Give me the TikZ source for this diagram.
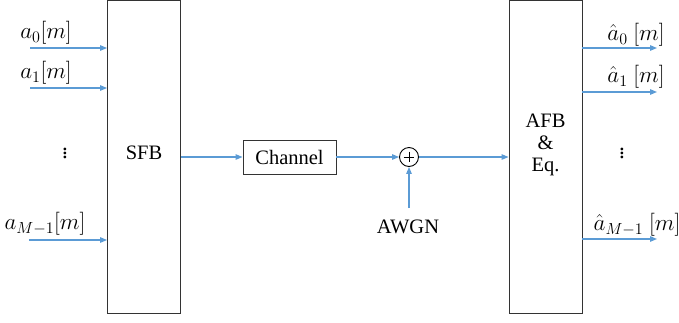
\RequirePackage{fix-cm}
\documentclass[tikz,border=0pt]{standalone}
\usepackage{fontspec}
\setmainfont{Liberation Serif}
\usetikzlibrary{arrows.meta}
\definecolor{sigblue}{RGB}{91,155,213}
\begin{document}
\begin{tikzpicture}[x=1pt,y=-1pt,
  blk/.style={draw=black!80,line width=0.9pt,inner sep=0pt},
  sig/.style={draw=sigblue,line width=1.2pt,-{Triangle[length=7pt,width=5.5pt]}},
  lbl/.style={inner sep=0pt,font=\fontsize{20.5}{24}\selectfont},
  mlbl/.style={inner sep=0pt,font=\fontsize{23}{27}\selectfont},
  every node/.style={font=\fontsize{20.5}{24}\selectfont}]
\useasboundingbox (0,0) rectangle (679,322);
% blocks
\node[blk,minimum width=73pt,minimum height=313pt] (sfb) at (144,157) {};
\node[lbl] at (144,153) {SFB};
\node[blk,minimum width=73pt,minimum height=313pt] (afb) at (545.5,157) {};
\node[lbl,align=center] at (545.5,145) {AFB\\[-2pt]\&\\[-2pt]Eq.};
\node[blk,minimum width=93pt,minimum height=34pt] (ch) at (289.5,157) {Channel};
\node[draw=black,line width=0.9pt,circle,minimum size=19pt,inner sep=0pt] (sum) at (409,157) {};
\draw[line width=0.8pt] (sum.north) ++(0,4.5) -- ++(0,10) (sum.west) ++(4.5,0) -- ++(10,0);
% inputs
\coordinate (i0) at (30,48);
\coordinate (i1) at (30,88);
\coordinate (i2) at (29,240);
\draw[sig] (i0) -- (i0 -| sfb.west);
\draw[sig] (i1) -- (i1 -| sfb.west);
\draw[sig] (i2) -- (i2 -| sfb.west);
\node[mlbl] at (46,33) {$a_0[m]$};
\node[mlbl] at (46,73) {$a_1[m]$};
\node[mlbl] at (45,224) {$a_{M-1}[m]$};
\node[mlbl] at (65,150) {$\vdots$};
% middle path
\draw[sig] (sfb.east |- ch.west) -- (ch.west);
\draw[sig] (ch.east) -- (sum.west);
\draw[sig] (sum.east) -- (sum.east -| afb.west);
\coordinate (nz) at (409,208);
\draw[sig] (nz) -- (sum.south);
\node[lbl] at (408,227) {AWGN};
% outputs
\coordinate (o0) at (657,48);
\coordinate (o1) at (657,92);
\coordinate (o2) at (657,239);
\draw[sig] (o0 -| afb.east) -- (o0);
\draw[sig] (o1 -| afb.east) -- (o1);
\draw[sig] (o2 -| afb.east) -- (o2);
\node[mlbl] at (636,35) {$\hat a_0\ [m]$};
\node[mlbl] at (636,77) {$\hat a_1\ [m]$};
\node[mlbl] at (637,225) {$\hat a_{M-1}\ [m]$};
\node[mlbl] at (622,150) {$\vdots$};
\end{tikzpicture}
\end{document}
